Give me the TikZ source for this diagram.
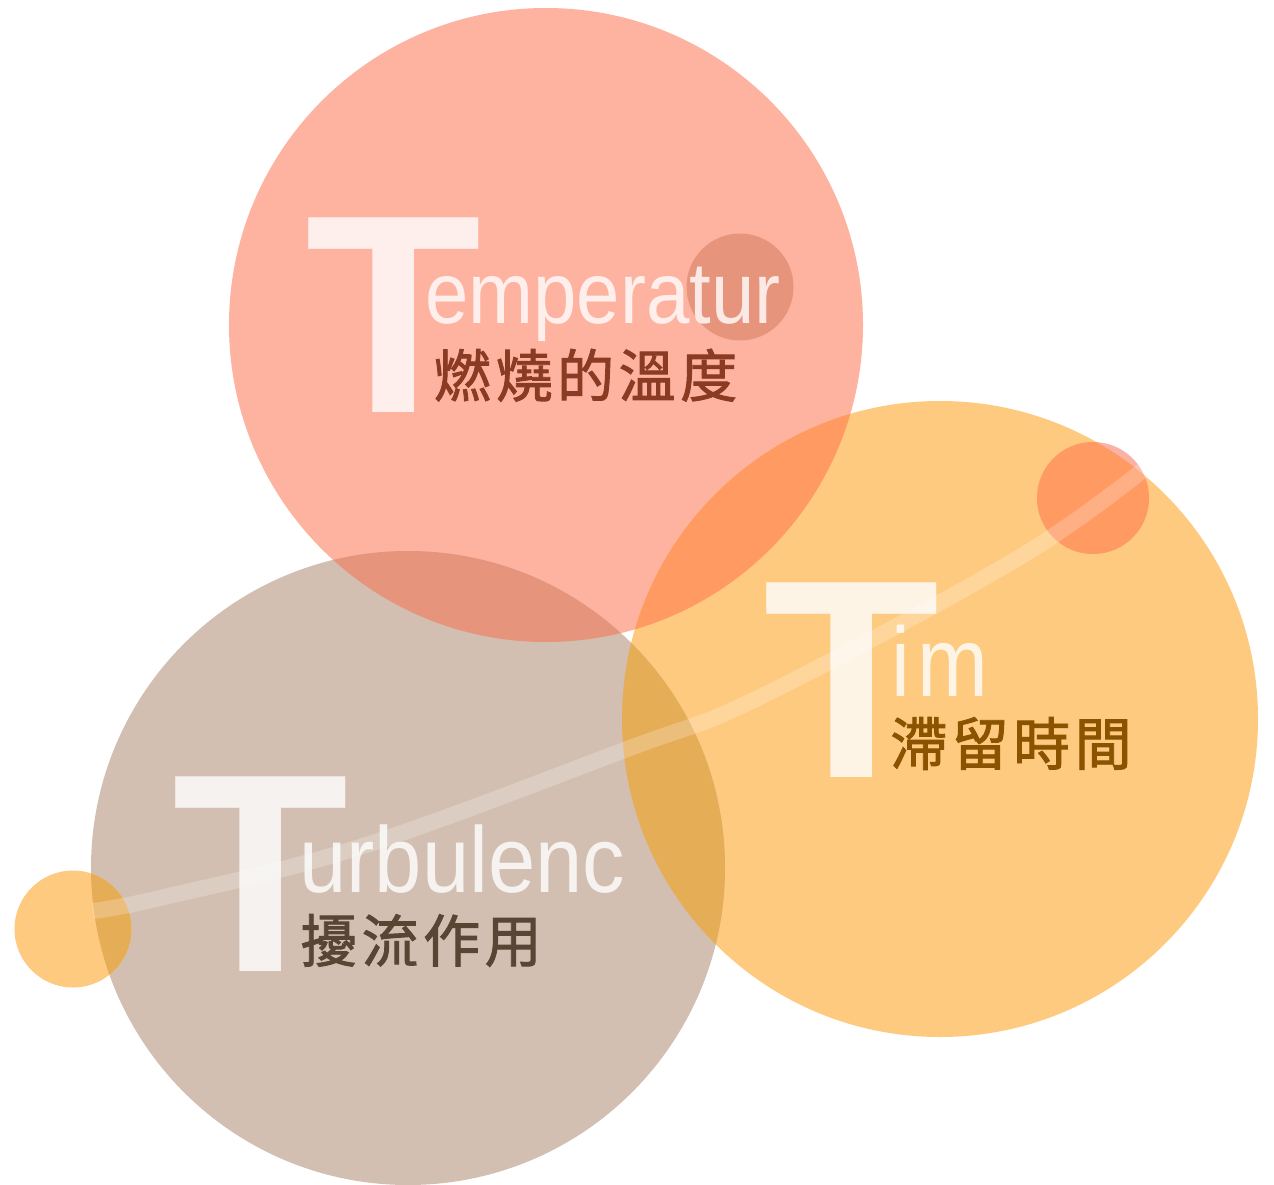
\documentclass[tikz,border=0pt]{standalone}
\usepackage{fontspec}
\setmainfont{Liberation Sans}
\newfontfamily\cjk[FakeBold=1.6]{Noto Sans CJK TC}
\definecolor{cS}{RGB}{254,179,160}
\definecolor{cO}{RGB}{254,202,127}
\definecolor{cB}{RGB}{210,191,177}
\definecolor{cSO}{RGB}{254,154,98}
\definecolor{cSB}{RGB}{230,148,123}
\definecolor{cOB}{RGB}{230,173,87}
\definecolor{cSout}{RGB}{250,178,165}
\definecolor{tS}{RGB}{139,58,36}
\definecolor{tO}{RGB}{139,82,0}
\definecolor{tB}{RGB}{90,69,53}
\tikzset{
  bigT/.style={inner sep=0pt, anchor=base west, text=white, text opacity=0.8,
    font=\fontsize{283}{283}\selectfont\bfseries, xscale=1.02},
  word/.style={inner sep=0pt, anchor=base west, text=white, text opacity=0.8},
  cjkword/.style={inner sep=0pt, anchor=base west, font=\fontsize{57}{57}\selectfont\cjk},
  trail/.style={draw=white, draw opacity=0.22, line width=16pt, line cap=butt}
}
\newcommand{\gp}{\kern4.5pt}
\begin{document}
\begin{tikzpicture}[x=1pt,y=-1pt]
\useasboundingbox (0,0) rectangle (1274,1185);
\fill[white] (0,0) rectangle (1274,1185);
% big circles
\fill[cS] (546,325) circle[radius=317pt];
\fill[cO] (940,719) circle[radius=318pt];
\fill[cB] (408,868) circle[radius=317pt];
% overlaps
\begin{scope}
  \clip (546,325) circle[radius=317pt];
  \fill[cSO] (940,719) circle[radius=318pt];
  \fill[cSB] (408,868) circle[radius=317pt];
\end{scope}
\begin{scope}
  \clip (940,719) circle[radius=318pt];
  \fill[cOB] (408,868) circle[radius=317pt];
\end{scope}
% small circles
\fill[cSB] (740,287) circle[radius=53.5pt];
\fill[cSout] (1093,498) circle[radius=56pt];
\begin{scope}
  \clip (940,719) circle[radius=318pt];
  \fill[cSO] (1093,498) circle[radius=56pt];
\end{scope}
\fill[cO] (73,929) circle[radius=58.5pt];
\begin{scope}
  \clip (408,868) circle[radius=317pt];
  \fill[cOB] (73,929) circle[radius=58.5pt];
\end{scope}
% trail
\path[trail] plot[smooth, tension=0.6] coordinates {(93,911) (160,898) (360,847) (630,748) (760,697) (1015,560) (1143,470)};
% Temperature
\node[bigT] (T1) at (305,412) {T};
\node[word, font=\fontsize{78}{78}\selectfont, yscale=1.12] (w1) at (425,323) {emperatur};
\node[cjkword, text=tS] (c1) at (434,397) {燃\gp 燒\gp 的\gp 溫\gp 度};
% Time
\node[bigT] (T2) at (763,777) {T};
\node[word, font=\fontsize{85}{85}\selectfont, yscale=1.16] (w2) at (891,696) {i\kern7pt m};
\node[cjkword, text=tO] (c2) at (890,765) {滯\gp 留\gp 時\gp 間};
% Turbulence
\node[bigT] (T3) at (172,971) {T};
\node[word, font=\fontsize{85}{85}\selectfont, yscale=1.1] (w3) at (299,892) {urbulenc};
\node[cjkword, text=tB] (c3) at (300,962) {擾\gp 流\gp 作\gp 用};
\end{tikzpicture}
\end{document}
